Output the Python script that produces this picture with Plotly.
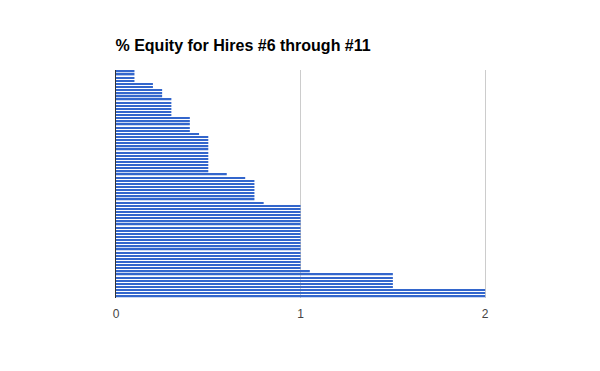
import plotly.graph_objects as go

title_text = "% Equity for Hires #6 through #11"

equity_pct = [
    0.1, 0.1, 0.1, 0.1,
    0.2, 0.2,
    0.25, 0.25, 0.25,
    0.3, 0.3, 0.3, 0.3, 0.3, 0.3,
    0.4, 0.4, 0.4, 0.4, 0.4,
    0.45,
    0.5, 0.5, 0.5, 0.5, 0.5, 0.5, 0.5, 0.5, 0.5, 0.5, 0.5, 0.5,
    0.6,
    0.7,
    0.75, 0.75, 0.75, 0.75, 0.75, 0.75, 0.75,
    0.8,
    1, 1, 1, 1, 1, 1, 1, 1, 1, 1, 1, 1, 1, 1, 1, 1, 1, 1, 1, 1, 1,
    1.05,
    1.5, 1.5, 1.5, 1.5, 1.5,
    2, 2, 2,
]
rows = list(range(len(equity_pct)))
x_ticks = [0, 1, 2]

FONT = "Arial, 'Liberation Sans', sans-serif"

fig = go.Figure(
    go.Bar(
        x=equity_pct,
        y=rows,
        orientation="h",
        marker=dict(color="#3366cc", line=dict(width=0)),
        hoverinfo="x",
    )
)

fig.update_layout(
    width=600,
    height=371,
    margin=dict(l=115.5, r=113, t=70, b=73, pad=0),
    paper_bgcolor="white",
    plot_bgcolor="white",
    bargap=0.55,
    showlegend=False,
    font=dict(family=FONT, size=12, color="#222222"),
    title=dict(
        text="<b>" + title_text + "</b>",
        x=115.5 / 600,
        xanchor="left",
        xref="container",
        y=1 - 45 / 371,
        yanchor="middle",
        yref="container",
        font=dict(family=FONT, size=16, color="#000000"),
    ),
    xaxis=dict(
        range=[0, 2.01],
        tickvals=x_ticks,
        ticktext=[str(v) for v in x_ticks],
        showgrid=True,
        gridcolor="#cccccc",
        gridwidth=1,
        zeroline=False,
        showline=False,
        ticks="outside",
        ticklen=5,
        tickcolor="rgba(0,0,0,0)",
        tickfont=dict(family=FONT, size=12, color="#444444"),
        fixedrange=True,
    ),
    yaxis=dict(
        range=[len(equity_pct) - 0.5, -0.5],
        showticklabels=False,
        showgrid=False,
        zeroline=False,
        showline=True,
        linecolor="#333333",
        linewidth=1,
        ticks="",
        fixedrange=True,
    ),
)

fig.write_html("out.html")
